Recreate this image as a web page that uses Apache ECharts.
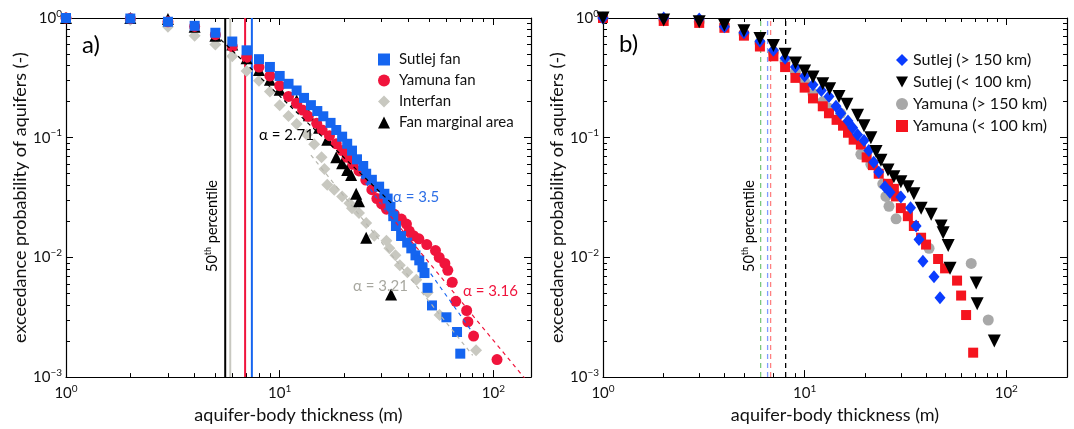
<!DOCTYPE html>
<html><head><meta charset="utf-8">
<script src="https://cdn.jsdelivr.net/npm/echarts@6/dist/echarts.min.js"></script>
<style>html,body{margin:0;padding:0;background:#fff}#c{width:1074px;height:429px}</style>
</head><body><div id="c"></div>
<script>
// ---------- Panel a) data: [thickness (m), exceedance probability] ----------
const sutlejFan = [[1,1],[2,0.99],[3,0.93],[4,0.86],[5,0.753],[6,0.636],[7,0.537],[8,0.453],[9,0.39],[10,0.328],[11,0.282],[12,0.248],[13,0.215],[14,0.187],[15,0.167],[16,0.151],[17.3,0.133],[18.4,0.116],[19.6,0.102],[20.7,0.089],[21.8,0.078],[23,0.066],[24.6,0.058],[25.4,0.05],[27,0.0445],[29.2,0.039],[30.9,0.034],[32,0.031],[33,0.0265],[34,0.0221],[35,0.0183],[37,0.0151],[39.5,0.0133],[41.3,0.0119],[43.2,0.0104],[45,0.00945],[46.6,0.00828],[47.6,0.0074],[49.2,0.00557],[51.6,0.00397],[60.3,0.00316],[67.6,0.00238],[70,0.00157]];
const yamunaFan = [[1,1],[2,0.99],[3,0.93],[4,0.85],[5,0.726],[6,0.578],[7,0.47],[8,0.389],[9,0.328],[10,0.272],[11,0.221],[12,0.194],[12.8,0.17],[13.6,0.151],[14.9,0.132],[15.8,0.116],[17.1,0.104],[18.4,0.089],[19.6,0.078],[20.7,0.0685],[22,0.06],[23.5,0.0528],[25.3,0.0443],[27,0.0368],[28.5,0.031],[30,0.028],[31.6,0.0253],[34.4,0.0229],[37.1,0.0209],[39.2,0.019],[40.4,0.0166],[42.3,0.0152],[44.8,0.0143],[48.8,0.0128],[53.6,0.0114],[55.8,0.01],[59.3,0.0089],[61.2,0.0078],[64.2,0.0062],[66.7,0.0043],[75,0.0036],[76,0.0029],[80.8,0.0022],[104,0.0014]];
const interfan = [[1,1],[2,0.963],[3,0.844],[4,0.712],[5,0.6],[6,0.479],[7,0.361],[8,0.299],[9,0.243],[10,0.187],[11,0.152],[12,0.13],[13.4,0.106],[14.5,0.088],[15.7,0.0685],[16.2,0.0548],[16.7,0.0405],[18,0.0368],[19.6,0.0323],[21.2,0.0283],[21.8,0.0258],[23.5,0.0235],[25.4,0.0194],[27.7,0.0152],[31.6,0.0138],[32.6,0.0119],[34.8,0.0104],[36.5,0.0086],[39.6,0.0075],[43.6,0.0065],[49.3,0.0051],[56,0.0033],[83,0.00168]];
const fanMarginal = [[1,1],[2,1],[3,0.98],[4,0.844],[5,0.712],[6,0.6],[7,0.46],[8,0.368],[9,0.305],[10,0.252],[12,0.205],[13.7,0.154],[15.3,0.121],[16.7,0.096],[18.4,0.0686],[19.6,0.0612],[20.7,0.0538],[21.6,0.0489],[22.8,0.0341],[23.5,0.0294],[25.4,0.0146],[33.2,0.0049]];
// power-law fits (end points)
const fitMarginal = [[5.3,0.66],[34,0.0275]];
const fitSutlej = [[24,0.0478],[80,0.00236]];
const fitYamuna = [[28,0.0316],[140,0.00098]];
const fitInterfan = [[14,0.0716],[80,0.00152]];
// 50th percentile thickness: marginal, interfan, yamuna, sutlej
const pctLeft = [5.56, 5.87, 6.89, 7.41];

// ---------- Panel b) data ----------
const sutlejFar = [[1,1],[2,1],[3,0.98],[4,0.844],[5,0.753],[6,0.64],[7,0.537],[8,0.461],[9,0.389],[10,0.328],[11,0.277],[12.1,0.248],[13.2,0.221],[14.3,0.183],[15.1,0.16],[16.4,0.138],[17.3,0.121],[18.3,0.106],[19.7,0.0946],[20.8,0.0782],[22,0.0624],[23.3,0.0517],[25,0.039],[26.5,0.035],[30,0.032],[33.5,0.026],[35.7,0.0183],[36.9,0.0141],[38.6,0.0093],[43.8,0.0069],[46.9,0.0046]];
const sutlejNear = [[1,1],[2,0.96],[3,0.93],[4,0.876],[5,0.782],[6,0.673],[7,0.589],[8,0.498],[9,0.42],[10,0.361],[11,0.322],[12.3,0.282],[13.3,0.257],[14.8,0.221],[16.2,0.19],[18.3,0.154],[19.7,0.126],[21.3,0.1],[22.6,0.0767],[23.9,0.0648],[25.9,0.0538],[27.7,0.0472],[30,0.0428],[32.5,0.0389],[34.8,0.0341],[37.8,0.0258],[42.4,0.0229],[47.5,0.0183],[48.6,0.0161],[51.5,0.0126],[52.6,0.0081],[70.9,0.0061],[71.7,0.0041],[87.2,0.002]];
const yamunaFar = [[1,1],[2,0.98],[3,0.93],[4,0.86],[5,0.74],[6,0.62],[7,0.52],[8,0.43],[9,0.354],[10,0.293],[11,0.234],[12.3,0.2],[13.2,0.176],[15.1,0.16],[16.6,0.126],[19,0.0727],[21.3,0.06],[24.4,0.0412],[25.3,0.0323],[26.2,0.0267],[28.4,0.021],[41.4,0.0119],[67,0.0089],[81.4,0.003]];
const yamunaNear = [[1,1],[2,0.945],[3,0.91],[4,0.828],[5,0.712],[6,0.578],[7,0.479],[8,0.389],[9,0.316],[10,0.262],[11,0.213],[12.3,0.183],[13.2,0.16],[14.4,0.141],[15.5,0.126],[16.4,0.11],[17.5,0.0963],[19,0.0876],[20.3,0.0685],[21.8,0.059],[23.3,0.05],[25.9,0.0412],[27.7,0.0374],[28.4,0.0323],[30,0.0258],[32.5,0.0221],[34.8,0.0183],[37.8,0.0146],[40,0.0128],[45.9,0.0097],[49.7,0.0081],[57,0.0064],[59.7,0.0048],[63.2,0.0033],[68.5,0.0016]];
// 50th percentile: yamuna far (green), sutlej far (blue), yamuna near (red), sutlej near (black)
const pctRight = [6.05, 6.55, 6.78, 8.05];

// ---------- Ticks ----------
const xMajor = [1, 10, 100];
const xMinor = [2,3,4,5,6,7,8,9,20,30,40,50,60,70,80,90];
const yMajor = [0.001, 0.01, 0.1, 1];
const yMinor = [0.002,0.003,0.004,0.005,0.006,0.007,0.008,0.009,0.02,0.03,0.04,0.05,0.06,0.07,0.08,0.09,0.2,0.3,0.4,0.5,0.6,0.7,0.8,0.9];
const xRange = [[1,150],[1,200]];
const yRange = [0.001, 1];

const FONT = 'Lato, "Open Sans", sans-serif';
const supLabel = v => { const e = Math.round(Math.log10(v)); return '{b|10}{s|' + (e < 0 ? '\u2212' + (-e) : e) + '}'; };
const labelRich = { b: { fontSize: 15, lineHeight: 19, fontFamily: FONT, color: '#111' }, s: { fontSize: 10, lineHeight: 10, verticalAlign: 'top', fontFamily: FONT, color: '#111' } };

function mkAxis(dim, g, range, pos, ticks, len, withLabel, withLine, name) {
  const a = {
    type: 'log', logBase: 10, gridIndex: g, min: range[0], max: range[1], position: pos,
    axisLine: { show: withLine, onZero: false, lineStyle: { color: '#000', width: 1.2 } },
    axisTick: { show: true, inside: true, length: len, customValues: ticks, lineStyle: { color: '#000', width: 1 } },
    axisLabel: { show: withLabel, customValues: withLabel ? ticks : undefined, formatter: supLabel, rich: labelRich, margin: dim === 'x' ? 7 : 4 },
    splitLine: { show: false }, minorTick: { show: false }, minorSplitLine: { show: false }
  };
  if (name) {
    a.name = name; a.nameLocation = 'middle';
    a.nameTextStyle = { fontSize: 18, fontFamily: FONT, color: '#111' };
    a.nameGap = dim === 'x' ? 22 : 30;
  }
  return a;
}
const xAxes = [], yAxes = [];
[0, 1].forEach(g => {
  xAxes.push(mkAxis('x', g, xRange[g], 'bottom', xMajor, 7, true, true, 'aquifer-body thickness (m)'));
  xAxes.push(mkAxis('x', g, xRange[g], 'bottom', xMinor, 4, false, false));
  xAxes.push(mkAxis('x', g, xRange[g], 'top', xMajor, 7, false, true));
  xAxes.push(mkAxis('x', g, xRange[g], 'top', xMinor, 4, false, false));
  yAxes.push(mkAxis('y', g, yRange, 'left', yMajor, 7, true, true, 'exceedance probability of aquifers (-)'));
  yAxes.push(mkAxis('y', g, yRange, 'left', yMinor, 4, false, false));
  yAxes.push(mkAxis('y', g, yRange, 'right', yMajor, 7, false, true));
  yAxes.push(mkAxis('y', g, yRange, 'right', yMinor, 4, false, false));
});

const C = { sutlej: '#1565f0', yamuna: '#f0143c', inter: '#c8c8c0', marg: '#000000',
  bSutFar: '#0a3cff', bSutNear: '#000000', bYamFar: '#a8a8a8', bYamNear: '#f5141e' };

function scatter(name, data, g, symbol, size, color, rot) {
  return { name, type: 'scatter', data, xAxisIndex: g * 4, yAxisIndex: g * 4, symbol, symbolSize: size,
    symbolRotate: rot || 0, itemStyle: { color, opacity: 1 }, z: 2, emphasis: { disabled: true } };
}
function dline(data, g, color, dash, width, z) {
  return { type: 'line', data, xAxisIndex: g * 4, yAxisIndex: g * 4, showSymbol: false, symbol: 'none',
    lineStyle: { color, width, type: dash }, z, silent: true, emphasis: { disabled: true } };
}
const pctColorsLeft = [C.marg, C.inter, C.yamuna, C.sutlej];
const pctColorsRight = ['#7cc67c', '#7f9cff', '#ff8080', '#000000'];

const series = [];
pctLeft.forEach((v, i) => series.push(dline([[v, yRange[0]], [v, yRange[1]]], 0, pctColorsLeft[i], 'solid', 2, 1)));
pctRight.forEach((v, i) => series.push(dline([[v, yRange[0]], [v, yRange[1]]], 1, pctColorsRight[i], [5, 4], 1.3, 1)));
series.push(scatter('Interfan', interfan, 0, 'diamond', 12, C.inter));
series.push(scatter('Fan marginal area', fanMarginal, 0, 'triangle', 12, C.marg));
series.push(scatter('Yamuna fan', yamunaFan, 0, 'circle', 11, C.yamuna));
series.push(scatter('Sutlej fan', sutlejFan, 0, 'rect', 10, C.sutlej));
series.push(dline(fitMarginal, 0, '#000', [4, 4], 1.2, 3));
series.push(dline(fitSutlej, 0, C.sutlej, [4, 4], 1.2, 3));
series.push(dline(fitYamuna, 0, C.yamuna, [4, 4], 1.2, 3));
series.push(dline(fitInterfan, 0, '#b8b8b0', [4, 4], 1.2, 3));
series.push(scatter('Yamuna (> 150 km)', yamunaFar, 1, 'circle', 11, C.bYamFar));
series.push(scatter('Yamuna (< 100 km)', yamunaNear, 1, 'rect', 10, C.bYamNear));
series.push(scatter('Sutlej (> 150 km)', sutlejFar, 1, 'diamond', [11, 13], C.bSutFar));
series.push(scatter('Sutlej (< 100 km)', sutlejNear, 1, 'triangle', 13, C.bSutNear, 180));

const legendBase = { orient: 'vertical', itemWidth: 12, itemHeight: 12, itemGap: 6, selectedMode: false };

const txt = (x, y, text, color, size) => ({ type: 'text', x, y, silent: true, z: 100,
  style: { text, fill: color, font: size + 'px ' + FONT, verticalAlign: 'middle', align: 'left' } });
const pctText = (x, y) => ({ type: 'text', x, y, rotation: Math.PI / 2, silent: true, z: 100,
  style: { text: '{n|50}{s|th}{n| percentile}', align: 'center', verticalAlign: 'middle', fill: '#000',
    rich: { n: { fontSize: 14.5, lineHeight: 17, fontFamily: FONT, fill: '#000' }, s: { fontSize: 9, lineHeight: 9, verticalAlign: 'top', fontFamily: FONT, fill: '#000' } } } });

const option = {
  animation: false,
  backgroundColor: '#fff',
  textStyle: { fontFamily: FONT },
  grid: [
    { left: 66, top: 18, width: 465, height: 365.5 },
    { left: 603, top: 18, width: 464, height: 365.5 }
  ],
  xAxis: xAxes,
  yAxis: yAxes,
  legend: [
    Object.assign({ left: 373, top: 47, data: ['Sutlej fan', 'Yamuna fan', 'Interfan', 'Fan marginal area'],
      textStyle: { fontSize: 15, fontFamily: FONT, color: '#111', padding: [0, 0, 0, 4] } }, legendBase),
    Object.assign({ left: 891, top: 47, data: ['Sutlej (> 150 km)', { name: 'Sutlej (< 100 km)', icon: 'path://M0,0L12,0L6,11Z' }, 'Yamuna (> 150 km)', 'Yamuna (< 100 km)'],
      textStyle: { fontSize: 16, fontFamily: FONT, color: '#111', padding: [0, 0, 0, 0] } }, legendBase)
  ],
  graphic: [
    txt(82, 45, 'a)', '#000', 24),
    txt(619, 44, 'b)', '#000', 24),
    txt(259, 135, '\u03b1 = 2.71', '#000', 15),
    txt(393, 197, '\u03b1 = 3.5', '#2e6fe6', 15),
    txt(353, 286, '\u03b1 = 3.21', '#a8a8a0', 15),
    txt(463, 291, '\u03b1 = 3.16', '#f0143c', 15),
    pctText(212, 226),
    pctText(749, 226)
  ],
  series
};
const chart = echarts.init(document.getElementById('c'), null, { renderer: 'canvas' });
chart.setOption(option);
</script>
</body></html>
